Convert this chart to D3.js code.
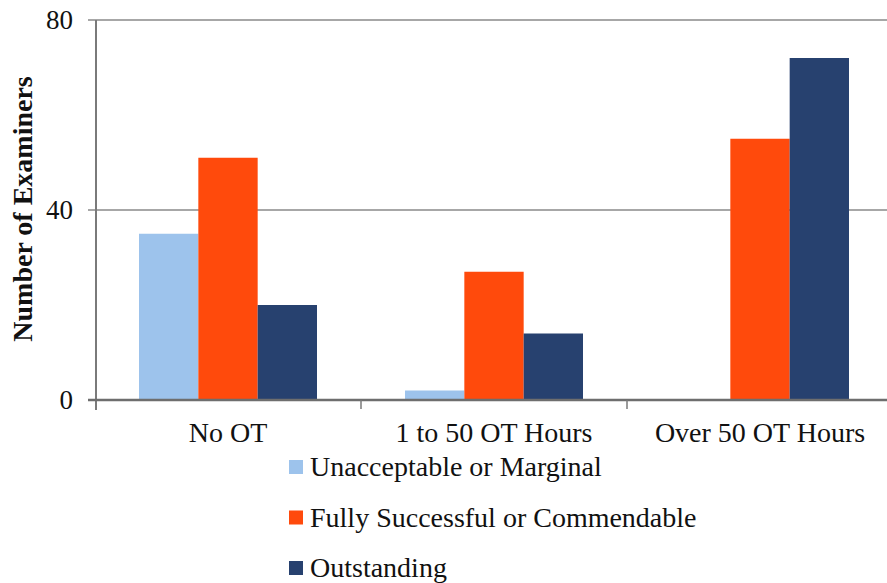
<!DOCTYPE html>
<html lang="en">
<head>
<meta charset="UTF-8">
<title>Number of Examiners by OT Hours</title>
<script src="https://d3js.org/d3.v7.min.js"></script>
<style>
    body { margin: 0; background: #fff; }
    text { font-family: "Liberation Serif", "Times New Roman", serif; fill: #111; }
</style>
</head>
<body>
<script>
    const categories = ["No OT", "1 to 50 OT Hours", "Over 50 OT Hours"];
    const seriesNames = ["Unacceptable or Marginal", "Fully Successful or Commendable", "Outstanding"];
    const unacceptable = [35, 2, 0];
    const fullySuccessful = [51, 27, 55];
    const outstanding = [20, 14, 72];
    const yTicks = [0, 40, 80];

    const seriesValues = [unacceptable, fullySuccessful, outstanding];
    const colors = ["#9dc3ec", "#ff4a0c", "#27416f"];

    const width = 887, height = 583;
    const svg = d3.select("body").append("svg")
        .attr("width", width)
        .attr("height", height);

    const y = d3.scaleLinear().domain([0, 80]).range([400, 20]);
    const x = d3.scaleBand().domain(categories).range([95, 893]);
    const x1 = d3.scaleBand().domain(d3.range(3)).range([44, x.bandwidth() - 44]);

    // gridlines
    svg.append("g")
        .selectAll("line")
        .data(yTicks.filter(d => d > 0))
        .join("line")
        .attr("x1", 88).attr("x2", width)
        .attr("y1", d => y(d)).attr("y2", d => y(d))
        .attr("stroke", "#8a8a8a").attr("stroke-width", 1.5);

    // bars
    const groups = svg.append("g")
        .selectAll("g")
        .data(categories)
        .join("g")
        .attr("transform", d => `translate(${x(d)},0)`);

    groups.selectAll("rect")
        .data((c, i) => seriesValues.map((s, k) => ({ k, v: s[i] })))
        .join("rect")
        .attr("x", d => x1(d.k))
        .attr("width", x1.bandwidth())
        .attr("y", d => y(d.v))
        .attr("height", d => y(0) - y(d.v))
        .attr("fill", d => colors[d.k]);

    // y axis line
    svg.append("line")
        .attr("x1", 96).attr("x2", 96)
        .attr("y1", y(80)).attr("y2", y(0) + 10)
        .attr("stroke", "#7a7a7a").attr("stroke-width", 2);

    // x axis
    const xAxis = svg.append("g");
    xAxis.append("line")
        .attr("x1", 88).attr("x2", width)
        .attr("y1", y(0)).attr("y2", y(0))
        .attr("stroke", "#6e6e6e").attr("stroke-width", 2.5);
    xAxis.selectAll(".tick")
        .data(categories.slice(1))
        .join("line")
        .attr("x1", d => x(d)).attr("x2", d => x(d))
        .attr("y1", y(0)).attr("y2", y(0) + 9)
        .attr("stroke", "#7a7a7a").attr("stroke-width", 1.5);
    xAxis.selectAll("text")
        .data(categories)
        .join("text")
        .attr("x", d => x(d) + x.bandwidth() / 2)
        .attr("y", 442)
        .attr("text-anchor", "middle")
        .attr("font-size", 28)
        .text(d => d);

    // y tick labels
    svg.append("g")
        .selectAll("text")
        .data(yTicks)
        .join("text")
        .attr("x", 73)
        .attr("y", d => y(d) + 9)
        .attr("text-anchor", "end")
        .attr("font-size", 27)
        .text(d => d);

    // y axis title
    svg.append("text")
        .attr("transform", "translate(32,209) rotate(-90)")
        .attr("text-anchor", "middle")
        .attr("font-size", 28)
        .attr("font-weight", "bold")
        .text("Number of Examiners");

    // legend
    const legend = svg.append("g")
        .selectAll("g")
        .data(seriesNames)
        .join("g")
        .attr("transform", (d, i) => `translate(289,${467 + i * 50.5})`);
    legend.append("rect")
        .attr("x", 0).attr("y", -7)
        .attr("width", 14).attr("height", 14)
        .attr("fill", (d, i) => colors[i]);
    legend.append("text")
        .attr("x", 21)
        .attr("y", 9)
        .attr("font-size", 28)
        .text(d => d);
</script>
</body>
</html>
